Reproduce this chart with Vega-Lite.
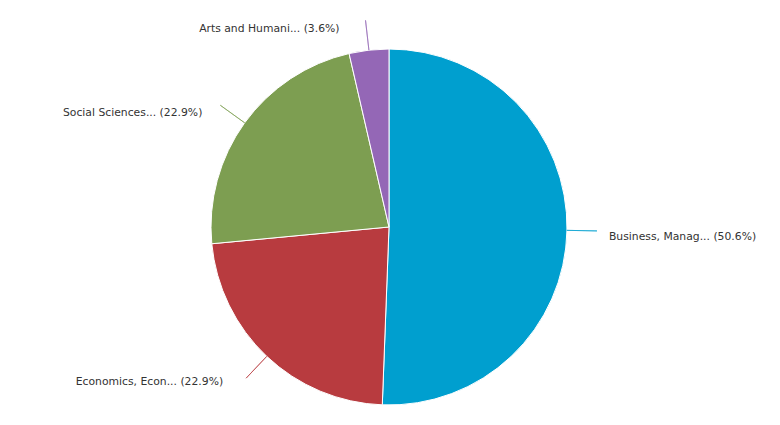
{
  "$schema": "https://vega.github.io/schema/vega-lite/v6.json",
  "width": 778,
  "height": 396,
  "autosize": "none",
  "padding": {"left": 0, "top": 29, "right": 2, "bottom": 0},
  "background": "white",
  "config": {"view": {"stroke": null}, "text": {"font": "DejaVu Sans", "fontSize": 10.8, "fill": "#333333"}},
  "data": {
    "values": [
      {"idx": 1, "cat": "Business, Manag...", "pct": 50.6},
      {"idx": 2, "cat": "Economics, Econ...", "pct": 22.9},
      {"idx": 3, "cat": "Social Sciences...", "pct": 22.9},
      {"idx": 4, "cat": "Arts and Humani...", "pct": 3.6}
    ]
  },
  "transform": [
    {"window": [{"op": "sum", "field": "pct", "as": "end"}], "sort": [{"field": "idx"}], "frame": [null, 0]},
    {"calculate": "datum.end - datum.pct", "as": "start"},
    {"calculate": "datum.end - datum.pct / 2", "as": "mid"},
    {"calculate": "datum.cat + ' (' + format(datum.pct, '.1f') + '%)'", "as": "label"}
  ],
  "layer": [
    {
      "mark": {"type": "arc", "outerRadius": 178, "stroke": "white", "strokeWidth": 1},
      "encoding": {
        "theta": {"field": "start", "type": "quantitative", "stack": false, "scale": {"domain": [0, 100]}},
        "theta2": {"field": "end"},
        "color": {"field": "cat", "type": "nominal", "legend": null,
          "scale": {"domain": ["Business, Manag...", "Economics, Econ...", "Social Sciences...", "Arts and Humani..."],
                    "range": ["#009fcf", "#b83b3f", "#7d9e51", "#9467b6"]}}
      }
    },
    {
      "mark": {"type": "arc", "innerRadius": 178, "outerRadius": 208, "strokeWidth": 1, "fillOpacity": 0, "strokeOpacity": 0.65},
      "encoding": {
        "theta": {"field": "mid", "type": "quantitative", "stack": false, "scale": {"domain": [0, 100]}},
        "theta2": {"field": "mid"},
        "stroke": {"field": "cat", "type": "nominal", "legend": null,
          "scale": {"domain": ["Business, Manag...", "Economics, Econ...", "Social Sciences...", "Arts and Humani..."],
                    "range": ["#009fcf", "#b83b3f", "#7d9e51", "#9467b6"]}}
      }
    },
    {
      "transform": [{"filter": "datum.idx === 1"}],
      "mark": {"type": "text", "radius": 208, "align": "left", "baseline": "middle", "dx": 12, "dy": 6},
      "encoding": {
        "theta": {"field": "mid", "type": "quantitative", "stack": false, "scale": {"domain": [0, 100]}},
        "text": {"field": "label"}
      }
    },
    {
      "transform": [{"filter": "datum.idx === 2"}],
      "mark": {"type": "text", "radius": 208, "align": "right", "baseline": "middle", "dx": -23, "dy": 4},
      "encoding": {
        "theta": {"field": "mid", "type": "quantitative", "stack": false, "scale": {"domain": [0, 100]}},
        "text": {"field": "label"}
      }
    },
    {
      "transform": [{"filter": "datum.idx === 3"}],
      "mark": {"type": "text", "radius": 208, "align": "right", "baseline": "middle", "dx": -18, "dy": 8},
      "encoding": {
        "theta": {"field": "mid", "type": "quantitative", "stack": false, "scale": {"domain": [0, 100]}},
        "text": {"field": "label"}
      }
    },
    {
      "transform": [{"filter": "datum.idx === 4"}],
      "mark": {"type": "text", "radius": 208, "align": "right", "baseline": "middle", "dx": -26, "dy": 9},
      "encoding": {
        "theta": {"field": "mid", "type": "quantitative", "stack": false, "scale": {"domain": [0, 100]}},
        "text": {"field": "label"}
      }
    }
  ]
}
